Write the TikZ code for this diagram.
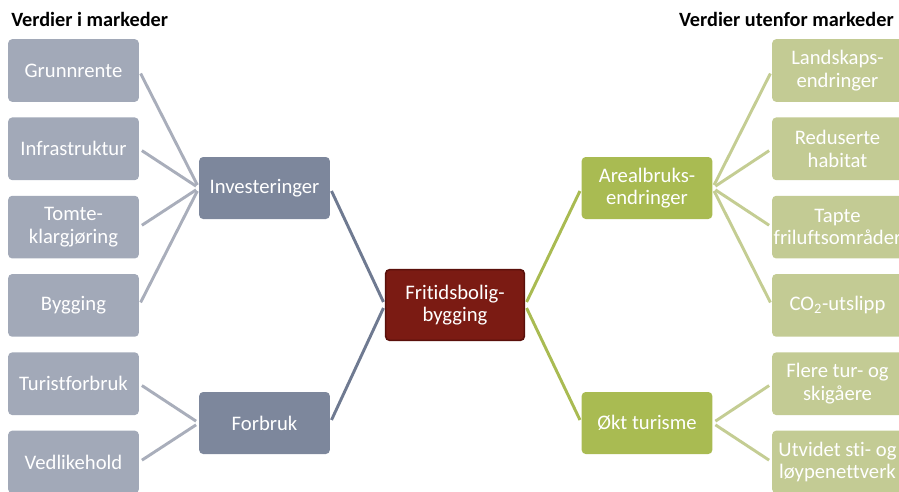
\documentclass[tikz,border=0pt]{standalone}
\usepackage{fontspec}
\setmainfont{Carlito}[Ligatures=NoCommon]

\definecolor{grayLight}{HTML}{A2A9B8}
\definecolor{grayDark}{HTML}{7D879C}
\definecolor{grayLine}{HTML}{A9AEBB}
\definecolor{grayMid}{HTML}{6F7A91}
\definecolor{greenLight}{HTML}{C3CB94}
\definecolor{greenDark}{HTML}{A9BB52}
\definecolor{greenLine}{HTML}{C4CD93}
\definecolor{redFill}{HTML}{7B1B13}
\definecolor{redEdge}{HTML}{5A100B}

\tikzset{box/.style={rectangle, rounded corners=3pt, minimum width=98pt, minimum height=47pt,
    inner sep=1pt, align=center, text=white, font=\fontsize{15.5}{16.8}\selectfont}}
\tikzset{leftbox/.style={box, fill=grayLight}}
\tikzset{leftmid/.style={box, fill=grayDark, minimum height=46.5pt}}
\tikzset{rightbox/.style={box, fill=greenLight}}
\tikzset{rightmid/.style={box, fill=greenDark, minimum height=46.5pt}}
\tikzset{hub/.style={box, fill=redFill, draw=redEdge, line width=1.2pt, minimum width=104pt, minimum height=53pt}}
\tikzset{heading/.style={font=\bfseries\fontsize{15.2}{17}\selectfont, inner sep=0pt}}
\tikzset{link/.style={line width=2.2pt, shorten <=2.5pt, shorten >=2.5pt}}

\begin{document}
\begin{tikzpicture}[x=0.75pt,y=-0.75pt]
\useasboundingbox (0,0) rectangle (899,492);

\node[heading, anchor=west] (titleleft) at (11,19) {Verdier i markeder};
\node[heading, anchor=east] (titleright) at (894,19) {Verdier utenfor markeder};

\node[leftbox] (grunnrente) at (73.5,70.5) {Grunnrente};
\node[leftbox] (infra) at (73.5,148.8) {Infrastruktur};
\node[leftbox] (tomte) at (73.5,227.1) {Tomte-\\klargjøring};
\node[leftbox] (bygging) at (73.5,305.4) {Bygging};
\node[leftbox] (turist) at (73.5,383.7) {Turistforbruk};
\node[leftbox] (vedlikehold) at (73.5,462) {Vedlikehold};

\node[leftmid] (invest) at (264.5,188) {Investeringer};
\node[leftmid] (forbruk) at (264.5,423) {Forbruk};

\node[hub] (fritid) at (455,305) {Fritidsbolig-\\bygging};

\node[rightmid] (areal) at (647,188) {Arealbruks-\\endringer};
\node[rightmid] (okt) at (647,423) {Økt turisme};

\node[rightbox] (landskap) at (837.5,70.5) {Landskaps-\\endringer};
\node[rightbox] (habitat) at (837.5,148.8) {Reduserte\\habitat};
\node[rightbox] (friluft) at (837.5,227.1) {Tapte\\friluftsområder};
\node[rightbox] (co2) at (837.5,305.4) {CO\textsubscript{2}-utslipp};
\node[rightbox] (flere) at (837.5,383.7) {Flere tur- og\\skigåere};
\node[rightbox] (utvidet) at (837.5,462) {Utvidet sti- og\\løypenettverk};

% left side
\draw[link, grayLine] (grunnrente.east) -- (invest.west);
\draw[link, grayLine] (infra.east) -- (invest.west);
\draw[link, grayLine] (tomte.east) -- (invest.west);
\draw[link, grayLine] (bygging.east) -- (invest.west);
\draw[link, grayLine] (turist.east) -- (forbruk.west);
\draw[link, grayLine] (vedlikehold.east) -- (forbruk.west);
\draw[link, grayMid] (invest.east) -- (fritid.west);
\draw[link, grayMid] (forbruk.east) -- (fritid.west);

% right side
\draw[link, greenDark] (fritid.east) -- (areal.west);
\draw[link, greenDark] (fritid.east) -- (okt.west);
\draw[link, greenLine] (areal.east) -- (landskap.west);
\draw[link, greenLine] (areal.east) -- (habitat.west);
\draw[link, greenLine] (areal.east) -- (friluft.west);
\draw[link, greenLine] (areal.east) -- (co2.west);
\draw[link, greenLine] (okt.east) -- (flere.west);
\draw[link, greenLine] (okt.east) -- (utvidet.west);
\end{tikzpicture}
\end{document}
